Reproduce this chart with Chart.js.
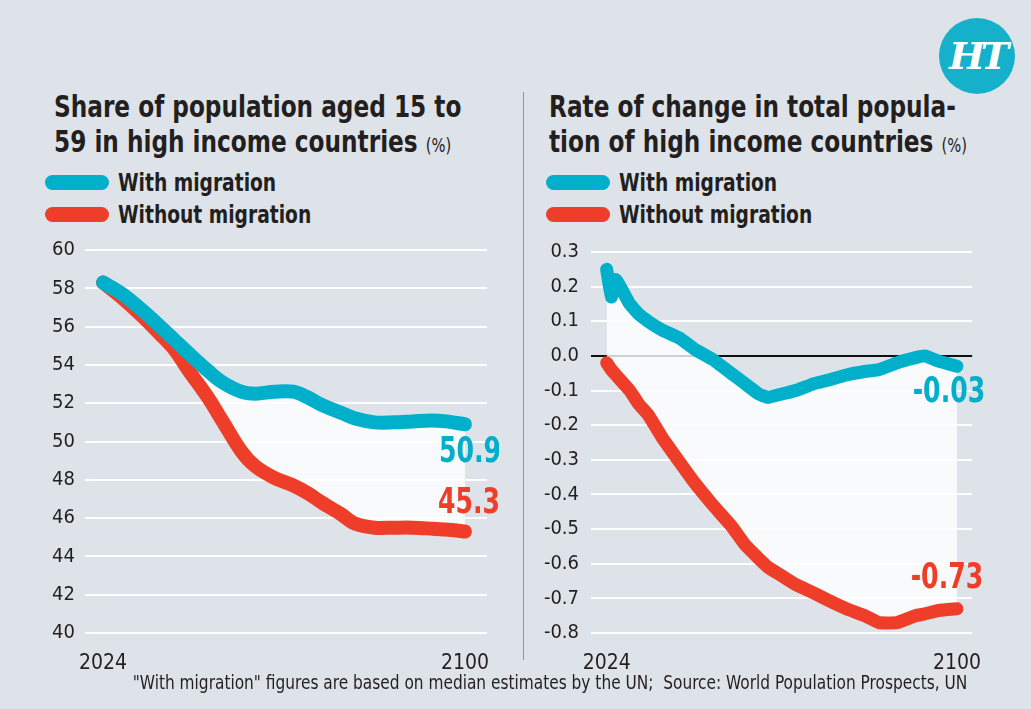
<!DOCTYPE html>
<html>
<head>
<meta charset="utf-8">
<script src="https://cdn.jsdelivr.net/npm/chart.js/dist/chart.umd.min.js"></script>
<style>
  html, body { margin: 0; padding: 0; }
  body {
    width: 1031px; height: 709px; overflow: hidden; position: relative;
    background: #dee3e9; color: #231f20;
    font-family: "DejaVu Sans Condensed", "Liberation Sans Narrow", Roboto, sans-serif;
  }
  .title { position: absolute; top: 89px; font-size: 30px; font-weight: bold; line-height: 35px; white-space: nowrap;
    transform: scaleX(0.86); transform-origin: 0 0; }
  .title small { font-size: 19px; font-weight: normal; }
  .legend { position: absolute; top: 166px; }
  .legend .row { display: flex; align-items: center; height: 32px; }
  .legend .pill { width: 64px; height: 15px; border-radius: 8px; margin-right: 9px; }
  .legend .txt { font-size: 25px; font-weight: bold; display: inline-block; transform: scaleX(0.83); transform-origin: 0 50%; white-space: nowrap; }
  .divider { position: absolute; left: 523px; top: 92px; width: 1px; height: 568px; background: #8f959b; }
  .logo { position: absolute; left: 939px; top: 18px; width: 76px; height: 76px; border-radius: 50%; background: #15b0ca;
    color: #fff; font: italic bold 38px "DejaVu Serif", serif; text-align: center; line-height: 76px; letter-spacing: -4px; }
  .footer { position: absolute; left: 0; width: 1100px; top: 671px; text-align: center; font-size: 19px; white-space: nowrap;
    transform: scaleX(0.9); transform-origin: 550px 0; }
  canvas { position: absolute; }
</style>
</head>
<body>
<div class="logo">HT</div>
<div class="title" style="left:54px">Share of population aged 15 to<br>59 in high income countries <small>(%)</small></div>
<div class="title" style="left:549px">Rate of change in total popula-<br>tion of high income countries <small>(%)</small></div>
<div class="legend" style="left:45px">
  <div class="row"><span class="pill" style="background:#00afca"></span><span class="txt">With migration</span></div>
  <div class="row"><span class="pill" style="background:#ee3e2a"></span><span class="txt">Without migration</span></div>
</div>
<div class="legend" style="left:546px">
  <div class="row"><span class="pill" style="background:#00afca"></span><span class="txt">With migration</span></div>
  <div class="row"><span class="pill" style="background:#ee3e2a"></span><span class="txt">Without migration</span></div>
</div>
<div class="divider"></div>
<canvas id="left" style="left:30px;top:228px;width:469px;height:447px" width="469" height="447"></canvas>
<canvas id="right" style="left:525px;top:228px;width:466px;height:447px" width="466" height="447"></canvas>
<div class="footer">"With migration" figures are based on median estimates by the UN;&nbsp; Source: World Population Prospects, UN</div>

<script>
// share of population aged 15-59 (%)
const shareYears = [2024, 2028, 2032, 2036, 2039, 2042, 2046, 2049, 2053, 2056, 2060, 2064, 2067, 2070, 2074, 2077, 2081, 2085, 2089, 2093, 2096, 2100];
const shareWith = [58.3, 57.7, 56.9, 56.0, 55.3, 54.6, 53.7, 53.1, 52.6, 52.5, 52.6, 52.6, 52.3, 51.9, 51.5, 51.2, 51.0, 51.0, 51.05, 51.1, 51.05, 50.9];
const shareWithout = [58.3, 57.5, 56.6, 55.6, 54.8, 53.7, 52.3, 51.1, 49.5, 48.7, 48.1, 47.7, 47.3, 46.8, 46.2, 45.7, 45.5, 45.5, 45.5, 45.45, 45.4, 45.3];

// rate of change in total population (%)
const rateYears = [2024, 2025, 2026, 2029, 2031, 2033, 2036, 2040, 2043, 2047, 2051, 2054, 2057, 2059, 2062, 2065, 2069, 2072, 2076, 2080, 2083, 2087, 2091, 2093, 2096, 2100];
const rateWith = [0.25, 0.17, 0.22, 0.15, 0.12, 0.10, 0.075, 0.05, 0.02, -0.01, -0.05, -0.08, -0.11, -0.12, -0.11, -0.10, -0.08, -0.07, -0.055, -0.045, -0.04, -0.02, -0.005, 0.0, -0.015, -0.03];
const rateWithout = [-0.02, -0.04, -0.055, -0.10, -0.14, -0.17, -0.235, -0.31, -0.365, -0.43, -0.49, -0.545, -0.585, -0.61, -0.635, -0.66, -0.685, -0.705, -0.73, -0.75, -0.77, -0.77, -0.75, -0.745, -0.735, -0.73];

const xTicks = [2024, 2100];

const BLUE = '#00afca';
const RED = '#ee3e2a';
const FONT = '"DejaVu Sans Condensed", "Liberation Sans Narrow", Roboto, sans-serif';

Chart.defaults.font.family = FONT;
Chart.defaults.color = '#231f20';

const toPoints = (xs, ys) => xs.map((x, i) => ({ x, y: ys[i] }));

// writes the last value of each dataset next to its end point
const endLabels = {
  id: 'endLabels',
  afterDatasetsDraw(chart) {
    const { ctx } = chart;
    chart.data.datasets.forEach((ds, i) => {
      const pts = chart.getDatasetMeta(i).data;
      const last = pts[pts.length - 1];
      const val = ds.data[ds.data.length - 1].y;
      ctx.save();
      ctx.translate(last.x + ds.endLabel.dx, last.y + ds.endLabel.dy);
      ctx.scale(0.8, 1);
      ctx.font = 'bold 35px ' + FONT;
      ctx.fillStyle = ds.borderColor;
      ctx.textAlign = 'center';
      ctx.textBaseline = 'middle';
      ctx.fillText(val.toFixed(ds.endLabel.digits), 0, 0);
      ctx.restore();
    });
  },
};

function makeChart(id, years, withMig, withoutMig, opts) {
  return new Chart(document.getElementById(id), {
    type: 'line',
    data: {
      datasets: [
        {
          label: 'With migration',
          data: toPoints(years, withMig),
          borderColor: BLUE,
          backgroundColor: 'rgba(255,255,255,0.8)',
          fill: '+1',
          endLabel: opts.blueLabel,
        },
        {
          label: 'Without migration',
          data: toPoints(years, withoutMig),
          borderColor: RED,
          fill: false,
          endLabel: opts.redLabel,
        },
      ],
    },
    options: {
      responsive: false,
      animation: false,
      clip: false,
      layout: { padding: { top: 8, right: 0, left: 0, bottom: 0 } },
      elements: {
        point: { radius: 0 },
        line: { borderWidth: opts.lineWidth, tension: opts.tension, borderCapStyle: 'round', borderJoinStyle: 'round' },
      },
      plugins: {
        legend: { display: false },
        tooltip: { enabled: false },
        filler: { drawTime: 'beforeDatasetsDraw' },
      },
      scales: {
        x: {
          type: 'linear',
          min: opts.xMin,
          max: opts.xMax,
          grid: { display: false },
          border: { display: false },
          afterBuildTicks: (s) => { s.ticks = xTicks.map((v) => ({ value: v })); },
          afterFit: (s) => { s.height = 42; },
          ticks: { font: { size: 21 }, padding: 10, maxRotation: 0, callback: (v) => String(v) },
        },
        y: {
          min: opts.yMin,
          max: opts.yMax,
          border: { display: false },
          afterFit: (s) => { s.width = opts.yWidth; },
          grid: {
            drawTicks: false,
            lineWidth: 2,
            color: (c) => (opts.zeroLine && c.tick && c.tick.value === 0 ? '#111' : '#ffffff'),
          },
          ticks: {
            stepSize: opts.yStep,
            padding: opts.yPad,
            font: { size: 20 },
            callback: opts.yFormat,
          },
        },
      },
    },
    plugins: [endLabels],
  });
}

makeChart('left', shareYears, shareWith, shareWithout, {
  xMin: 2020.2, xMax: 2104.6, yMin: 40, yMax: 60, yStep: 2, yWidth: 55, yPad: 10,
  lineWidth: 14, tension: 0.35, zeroLine: false,
  yFormat: (v) => String(v),
  blueLabel: { dx: 5, dy: 29, digits: 1 },
  redLabel: { dx: 4, dy: -28, digits: 1 },
});

makeChart('right', rateYears, rateWith, rateWithout, {
  xMin: 2020.6, xMax: 2103.3, yMin: -0.8, yMax: 0.3, yStep: 0.1, yWidth: 66, yPad: 12,
  lineWidth: 13, tension: 0.1, zeroLine: true,
  yFormat: (v) => Number(v).toFixed(1),
  blueLabel: { dx: -8, dy: 27, digits: 2 },
  redLabel: { dx: -10, dy: -30, digits: 2 },
});
</script>
</body>
</html>
